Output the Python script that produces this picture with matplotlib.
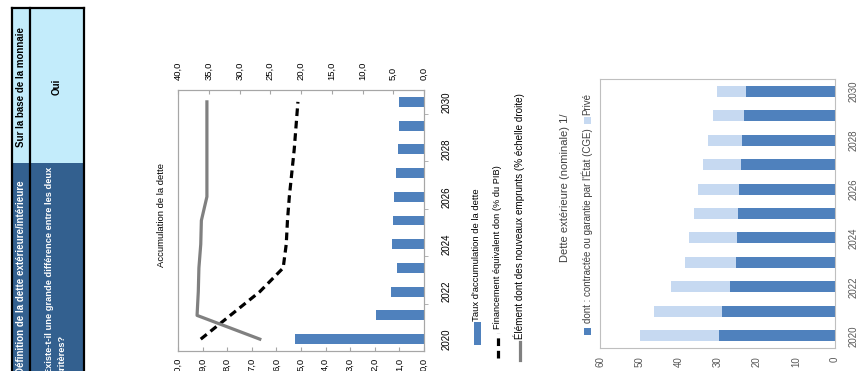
import numpy as np
import matplotlib
matplotlib.use('Agg')
import matplotlib.pyplot as plt
from matplotlib.patches import Rectangle
from matplotlib.lines import Line2D

plt.rcParams['font.family'] = ['Liberation Sans', 'DejaVu Sans']

# data
years = [2020, 2021, 2022, 2023, 2024, 2025, 2026, 2027, 2028, 2029, 2030]
taux_accum = [5.25, 1.95, 1.35, 1.08, 1.3, 1.26, 1.2, 1.15, 1.04, 1.03, 1.0]
fin_don = [36.3, 31.5, 26.7, 22.9, 22.4, 22.2, 21.9, 21.5, 21.1, 20.8, 20.5]
elem_don = [26.7, 36.9, 36.7, 36.6, 36.3, 36.2, 35.3, 35.3, 35.3, 35.3, 35.3]
cge = [29.5, 28.9, 26.8, 25.3, 25.0, 24.7, 24.5, 24.1, 23.7, 23.2, 22.8]
prive = [20.2, 17.3, 15.0, 13.1, 12.2, 11.3, 10.4, 9.7, 8.7, 8.0, 7.4]
left_ticks = [0, 1, 2, 3, 4, 5, 6, 7, 8, 9, 10]
right_ticks = [0, 5, 10, 15, 20, 25, 30, 35, 40]
dette_ticks = [0, 10, 20, 30, 40, 50, 60]

W, H = 866, 371
def box(x0, y0, x1, y1):
    return [x0 / W, 1 - y1 / H, (x1 - x0) / W, (y1 - y0) / H]
def fx(x):
    return x / W
def fy(y):
    return 1 - y / H
def fr(v):
    return ('%.1f' % v).replace('.', ',')

fig = plt.figure(figsize=(W / 100, H / 100), dpi=100)
fig.patch.set_facecolor('white')

# ---- table (rotated) ----
light = '#C3ECFB'
dark = '#33608F'
fig.add_artist(Rectangle((fx(12), fy(163)), fx(84) - fx(12), fy(8) - fy(163),
                         transform=fig.transFigure, color=light, lw=0))
fig.add_artist(Rectangle((fx(12), fy(380)), fx(84) - fx(12), fy(163) - fy(380),
                         transform=fig.transFigure, color=dark, lw=0))
for xl in [12, 30, 84]:
    fig.add_artist(Line2D([fx(xl), fx(xl)], [fy(8), fy(380)], transform=fig.transFigure,
                          color='black', lw=1.6))
fig.add_artist(Line2D([fx(12), fx(84)], [fy(8), fy(8)], transform=fig.transFigure,
                      color='black', lw=1.6))
fig.text(fx(21.5), fy(87), 'Sur la base de la monnaie', rotation=90, ha='center', va='center',
         fontsize=7, fontweight='bold', color='black')
fig.text(fx(57), fy(87), 'Oui', rotation=90, ha='center', va='center',
         fontsize=7, fontweight='bold', color='black')
fig.text(fx(21.5), fy(374), 'Définition de la dette extérieure/intérieure', rotation=90,
         ha='center', va='bottom', fontsize=7, fontweight='bold', color='white')
fig.text(fx(56), fy(374), 'Existe-t-il une grande différence entre les deux\ncritères?',
         rotation=90, ha='center', va='bottom', multialignment='left', linespacing=1.6,
         fontsize=6.7, fontweight='bold', color='white')

# ---- accumulation de la dette ----
pos = np.arange(len(years))
frame = '#A6A6A6'
dash = (0, (2.4, 1.5))
ax1 = fig.add_axes(box(178, 90, 424, 351))
ax1.barh(pos, taux_accum, height=0.42, color='#4F81BD')
ax1.set_xlim(10, 0)
ax1.set_ylim(-0.5, 10.5)
ax1.set_xticks(left_ticks)
ax1.set_xticklabels([fr(v) for v in left_ticks], rotation=90)
ax1.tick_params(axis='x', direction='in', length=3, color=frame, labelsize=6.8, pad=5)
ax1.yaxis.tick_right()
ax1.set_yticks(pos[::2])
ax1.set_yticklabels([str(y) for y in years[::2]], rotation=90, va='center')
ax1.set_yticks([1.5, 3.5, 5.5, 7.5, 9.5], minor=True)
ax1.tick_params(axis='y', which='major', length=0, labelsize=7, pad=13)
ax1.tick_params(axis='y', which='minor', length=3, color=frame, direction='out')
for s in ax1.spines.values():
    s.set_color(frame)

ax2 = ax1.twiny()
ax2.plot(fin_don, pos, color='black', lw=2.3, ls=dash)
ax2.plot(elem_don, pos, color='#808080', lw=2.3)
ax2.set_xlim(40, 0)
ax2.set_xticks(right_ticks)
ax2.set_xticklabels([fr(v) for v in right_ticks], rotation=90)
ax2.tick_params(axis='x', direction='in', length=3, color=frame, labelsize=6.8, pad=7)
for s in ax2.spines.values():
    s.set_color(frame)

fig.text(fx(161), fy(215), 'Accumulation de la dette', rotation=90, ha='center', va='center',
         fontsize=6.8)

# legend
fig.add_artist(Rectangle((fx(473.5), fy(345)), fx(7), fy(0) - fy(23), transform=fig.transFigure,
                         color='#4F81BD', lw=0))
fig.text(fx(477), fy(321), "Taux d'accumulation de la dette", rotation=90, ha='center',
         va='bottom', fontsize=6.8)
fig.add_artist(Line2D([fx(498), fx(498)], [fy(358), fy(333)], transform=fig.transFigure,
                      color='black', lw=2.3, ls=dash))
fig.text(fx(498), fy(329), 'Financement équivalent don (% du PIB)', rotation=90, ha='center',
         va='bottom', fontsize=6.7)
fig.add_artist(Line2D([fx(519.5), fx(519.5)], [fy(360), fy(342)], transform=fig.transFigure,
                      color='#808080', lw=2.3))
fig.text(fx(519.5), fy(339), 'Élément dont des nouveaux emprunts (% échelle droite)', rotation=90,
         ha='center', va='bottom', fontsize=7.1)

# ---- dette exterieure ----
frame2 = '#BFBFBF'
ax3 = fig.add_axes(box(600, 79, 835, 348))
ax3.barh(pos, cge, height=0.45, color='#4F81BD')
ax3.barh(pos, prive, left=cge, height=0.45, color='#C6D9F1')
ax3.set_xlim(60, 0)
ax3.set_ylim(-0.5, 10.5)
ax3.set_xticks(dette_ticks)
ax3.set_xticklabels([str(v) for v in dette_ticks], rotation=90)
ax3.tick_params(axis='x', length=0, labelsize=7, pad=6, labelcolor='#595959')
ax3.yaxis.tick_right()
ax3.set_yticks(pos[::2])
ax3.set_yticklabels([str(y) for y in years[::2]], rotation=90, va='center')
ax3.tick_params(axis='y', length=0, labelsize=7, pad=10, labelcolor='#595959')
for s in ax3.spines.values():
    s.set_color(frame2)

fig.text(fx(565), fy(188), 'Dette extérieure (nominale) 1/', rotation=90, ha='center',
         va='center', fontsize=8, color='#404040')
fig.add_artist(Rectangle((fx(583.5), fy(335)), fx(7), fy(0) - fy(7), transform=fig.transFigure,
                         color='#4F81BD', lw=0))
fig.text(fx(587), fy(323), "dont : contractée ou garantie par l'État (CGE)", rotation=90,
         ha='center', va='bottom', fontsize=7, color='#404040')
fig.add_artist(Rectangle((fx(583.5), fy(124)), fx(7), fy(0) - fy(7), transform=fig.transFigure,
                         color='#C6D9F1', lw=0))
fig.text(fx(587), fy(115), 'Privé', rotation=90, ha='center', va='bottom', fontsize=7,
         color='#404040')

fig.savefig('out.png', dpi=100, facecolor='white')
